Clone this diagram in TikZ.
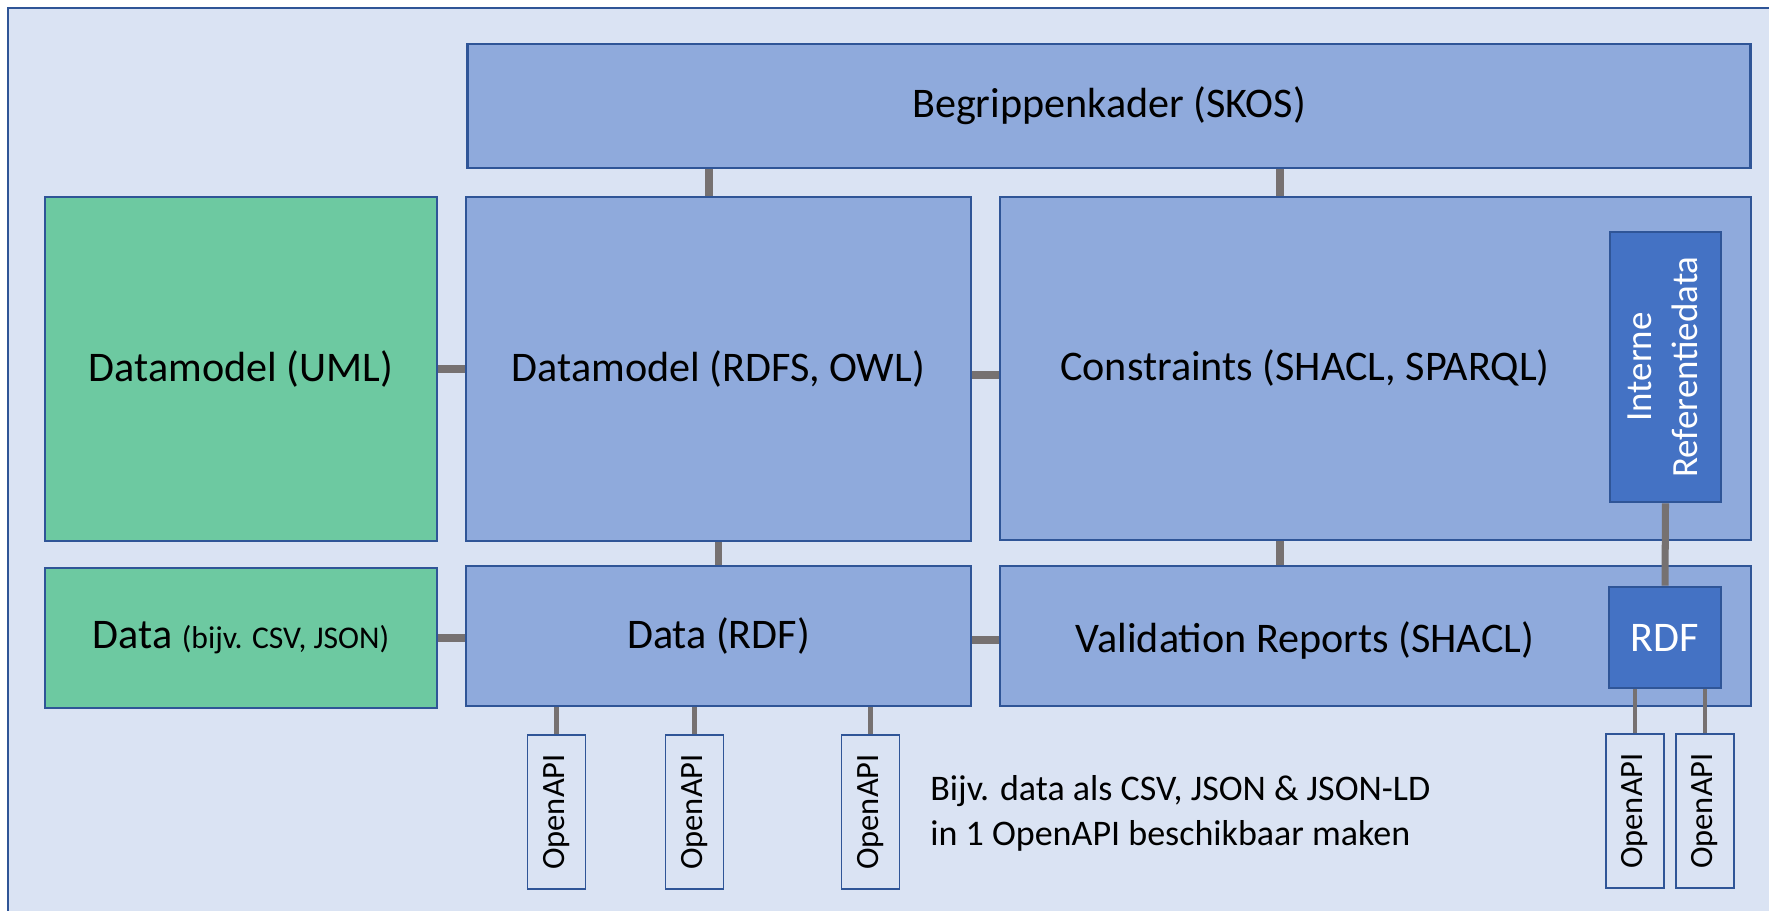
\documentclass[tikz,border=0pt]{standalone}
\usepackage{fontspec}
\setmainfont{Carlito}
\usepackage{graphicx}

\definecolor{panelbg}{HTML}{DAE3F3}
\definecolor{layerblue}{HTML}{8FAADC}
\definecolor{borderblue}{HTML}{2F5597}
\definecolor{srcgreen}{HTML}{6DC9A1}
\definecolor{refblue}{HTML}{4472C4}
\definecolor{linkgray}{HTML}{767171}

\begin{document}
\begin{tikzpicture}[x=0.02cm, y=-0.02cm,
        layer/.style={rectangle, draw=borderblue, line width=1.6pt, fill=layerblue, inner sep=0pt, font=\fontsize{24}{29}\selectfont},
        source/.style={layer, fill=srcgreen},
        refbox/.style={layer, fill=refblue, text=white},
        apibox/.style={rectangle, draw=borderblue, line width=1.1pt, fill=panelbg, inner sep=0pt, minimum width=1.16cm, minimum height=3.08cm, font=\fontsize{18.5}{22}\selectfont},
        boxtext/.style={inner sep=0pt, font=\fontsize{24}{29}\selectfont},
        link/.style={draw=linkgray, line width=4pt},
        apilink/.style={draw=linkgray, line width=2.8pt}
    ]

        \useasboundingbox (0,0) rectangle (1769,911);
        \clip (0,0) rectangle (1769,911);
        \fill[white] (0,0) rectangle (1769,911);
        \draw[draw=borderblue, line width=1.6pt, fill=panelbg] (8,8) rectangle (1800,950);

        % Top layer
        \node[layer, minimum width=25.68cm, minimum height=2.48cm] (begrip) at (1109,106) {Begrippenkader (SKOS)};

        % Model row
        \node[source, minimum width=7.84cm, minimum height=6.88cm] (uml) at (241,369) {Datamodel (UML)};
        \node[layer, minimum width=10.1cm, minimum height=6.88cm] (rdfs) at (718.5,369) {Datamodel (RDFS, OWL)};
        \node[layer, minimum width=15.02cm, minimum height=6.86cm] (cons) at (1375.5,368.5) {};
        \node[boxtext] (constxt) at (1305,368.5) {Constraints (SHACL, SPARQL)};
        \node[refbox, minimum width=2.22cm, minimum height=5.4cm, font=\fontsize{21}{26}\selectfont] (intern) at (1665.5,367)
            {\rotatebox{90}{\begin{tabular}{@{}c@{}}Interne\\Referentiedata\end{tabular}}};

        % Data row
        \node[source, minimum width=7.84cm, minimum height=2.8cm] (srcdata) at (241,638) {Data {\fontsize{18}{21}\selectfont (bijv. CSV, JSON)}};
        \node[layer, minimum width=10.1cm, minimum height=2.8cm] (rdfdata) at (718.5,636) {Data (RDF)};
        \node[layer, minimum width=15.02cm, minimum height=2.8cm] (valid) at (1375.5,636) {};
        \node[boxtext] (validtxt) at (1305,640) {Validation Reports (SHACL)};
        \node[refbox, minimum width=2.24cm, minimum height=2.02cm] (rdfbox) at (1665,637.5) {RDF};

        % OpenAPI endpoints
        \node[apibox] (api1) at (556.5,812) {\rotatebox{90}{OpenAPI}};
        \node[apibox] (api2) at (694.5,812) {\rotatebox{90}{OpenAPI}};
        \node[apibox] (api3) at (870.5,812) {\rotatebox{90}{OpenAPI}};
        \node[apibox] (api4) at (1635,811) {\rotatebox{90}{OpenAPI}};
        \node[apibox] (api5) at (1705,811) {\rotatebox{90}{OpenAPI}};

        \node[anchor=west, align=left, inner sep=0pt, font=\fontsize{20.5}{25.5}\selectfont] (note) at (930,813)
            {Bijv. data als CSV, JSON \& JSON-LD\\in 1 OpenAPI beschikbaar maken};

        % Connectors
        \coordinate (tapL) at (709,0);
        \coordinate (tapR) at (1280,0);
        \draw[link] (begrip.south -| tapL) -- (rdfs.north -| tapL);
        \draw[link] (begrip.south -| tapR) -- (cons.north -| tapR);
        \draw[link] (uml.east) -- (rdfs.west);
        \draw[link] ([yshift=-0.12cm]rdfs.east) -- ([yshift=-0.12cm]rdfs.east -| cons.west);
        \draw[link] (rdfs.south) -- (rdfdata.north);
        \draw[link] (cons.south -| tapR) -- (valid.north -| tapR);
        \draw[link] (intern.south) -- (rdfbox.north);
        \draw[link] (srcdata.east) -- (srcdata.east -| rdfdata.west);
        \draw[link] ([yshift=-0.08cm]rdfdata.east) -- ([yshift=-0.08cm]rdfdata.east -| valid.west);
        \foreach \api in {api1,api2,api3}
            \draw[apilink] (\api.north) -- (\api.north |- rdfdata.south);
        \foreach \api in {api4,api5}
            \draw[apilink] (\api.north) -- (\api.north |- rdfbox.south);

    \end{tikzpicture}
\end{document}
